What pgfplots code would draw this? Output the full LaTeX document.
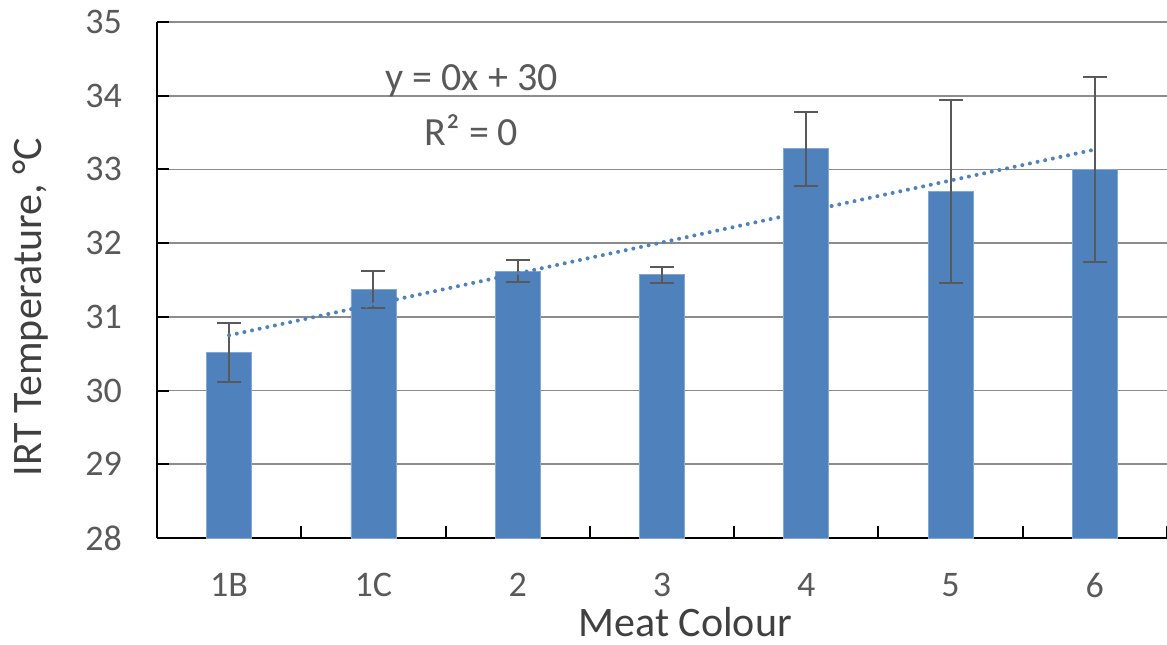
\documentclass[border=0pt]{standalone}
\usepackage{pgfplots}
\pgfplotsset{compat=1.18}
\usepackage{pgfplotstable}
\usepackage{fontspec}
\setmainfont{Carlito}
\definecolor{barblue}{HTML}{4F81BD}
\definecolor{tickgray}{HTML}{595959}
\definecolor{labgray}{HTML}{404040}
\definecolor{gridgray}{HTML}{8C8C8C}
\definecolor{errgray}{HTML}{595959}
\pgfplotstableread{
x y err
0 30.52 0.40
1 31.37 0.25
2 31.62 0.15
3 31.57 0.11
4 33.28 0.50
5 32.70 1.24
6 33.00 1.25
}\data
\begin{document}
\begin{tikzpicture}
\begin{axis}[name=ax, scale only axis, width=505pt, height=258pt,
  xmin=-0.5, xmax=6.5, ymin=28, ymax=35,
  axis x line*=bottom, axis y line*=left,
  axis line style={black, line width=1pt, -},
  xtick={0,...,6}, xticklabels={1B,1C,2,3,4,5,6},
  major x tick style={draw=none},
  minor xtick={-0.5,0.5,...,6.5},
  minor x tick style={black, line width=1pt},
  minor tick length=6pt,
  ytick={28,...,35},
  y tick style={black, line width=1pt},
  major tick length=6pt,
  tick align=inside,
  ymajorgrids, grid style={color=gridgray, line width=0.8pt},
  ticklabel style={font=\fontsize{18}{20}\selectfont, text=tickgray},
  /pgf/number format/assume math mode=true,
  yticklabel style={xshift=-14pt},
  xticklabel style={yshift=-14pt},
  xlabel={Meat Colour}, ylabel={IRT Temperature, °C},
  label style={font=\fontsize{21}{24}\selectfont, text=labgray},
  xlabel style={at={(axis description cs:0.523,-0.163)}, anchor=center},
  ylabel style={at={(axis description cs:-0.1248,0.4477)}, anchor=center},
  clip=true,
]
\addplot[ybar, bar width=22.5pt, fill=barblue, draw=barblue!70!white, line width=0.4pt,
  error bars/.cd, y dir=both, y explicit,
  error bar style={color=errgray, line width=1pt},
  error mark options={rotate=90, mark size=6pt, line width=1pt, color=errgray}]
  table[x=x, y=y, y error=err]{\data};
\addplot[barblue, line width=2pt, dash pattern=on 0pt off 3.9pt, line cap=round, mark=none]
  coordinates {(0,30.75) (6,33.27)};
\node[font=\fontsize{20}{22}\selectfont, text=tickgray] at (axis cs:1.68,34.2) {y = 0x + 30};
\node[font=\fontsize{20}{22}\selectfont, text=tickgray] at (axis cs:1.68,33.53) {R² = 0};
\end{axis}
\pgfresetboundingbox
\path[use as bounding box] ([shift={(-78.5pt,-53pt)}]ax.south west) rectangle ([shift={(505pt,269pt)}]ax.south west);
\end{tikzpicture}
\end{document}
